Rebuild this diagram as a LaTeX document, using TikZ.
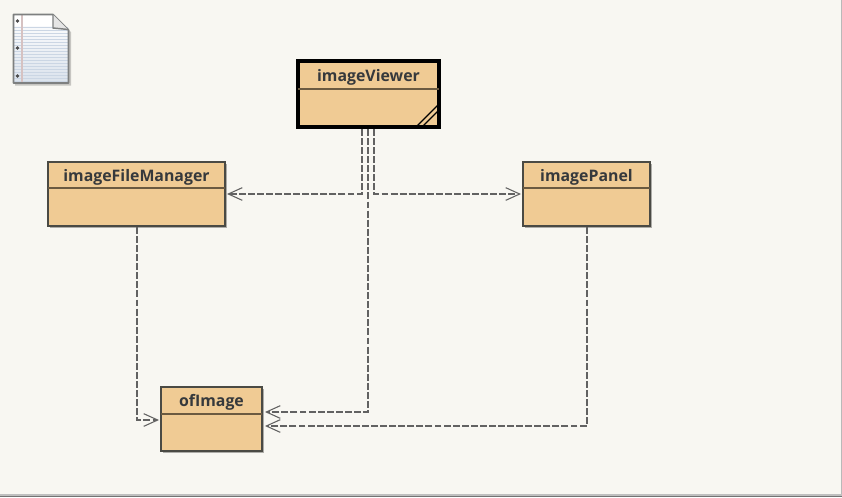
\documentclass[tikz,border=0pt]{standalone}
\usepackage{fontspec}
\setmainfont{Open Sans}
\usetikzlibrary{arrows.meta,shadows,calc}
\definecolor{bgc}{HTML}{F8F7F2}
\definecolor{fillc}{HTML}{F0CB94}
\definecolor{edgec}{HTML}{4A4A44}
\definecolor{divc}{HTML}{6B5A40}
\definecolor{textc}{HTML}{36393C}
\definecolor{linkc}{HTML}{2E2E2E}
\definecolor{paperl}{HTML}{CBD6E4}
\definecolor{paperb}{HTML}{7E8080}
\tikzset{
  classbox/.style={draw=edgec,fill=fillc,line width=1.4pt,outer sep=0pt,inner sep=0pt,
    drop shadow={shadow xshift=1.6pt,shadow yshift=-1.6pt,opacity=.3,fill=black}},
  activebox/.style={classbox,draw=black,line width=3.6pt},
  divider/.style={draw=divc,line width=1.3pt},
  title/.style={font=\bfseries\fontsize{11.9pt}{14pt}\selectfont,text=textc,inner sep=0pt},
  dep/.style={draw=linkc!75,line width=0.95pt,dash pattern=on 5.2pt off 1.6pt,
    -{Straight Barb[length=10.5pt,width=9.5pt,line width=0.8pt]}},
}
\newcommand{\classnode}[8][classbox]{% style, name, x0,y0,x1,y1, divider y, title
  \node[#1,minimum width={(#5-#3)*0.75pt},minimum height={(#6-#4)*0.75pt}] (#2) at ({(#3+#5)/2},{(#4+#6)/2}) {};
  \draw[divider] (#3,#7) -- (#5,#7);
  \node[title] (#2t) at ({(#3+#5)/2},{(#4+#7)/2+2}) {#8};
}
\begin{document}
\begin{tikzpicture}[x=0.75pt,y=-0.75pt]
\useasboundingbox (0,0) rectangle (842,497);
\fill[bgc] (0,0) rectangle (842,497);
\fill[gray!55] (840.5,0) rectangle (842,497);
\fill[gray!50] (0,494) rectangle (842,495.5);
\fill[gray!90!black] (0,495.5) rectangle (842,497);
% document icon
\fill[black,opacity=.2] (15,16) -- (55,16) -- (71,32) -- (71,85.5) -- (15,85.5) -- cycle;
\shade[top color=white,bottom color=paperl!70] (13.5,14.5) -- (53,14.5) -- (68.5,30) -- (68.5,83) -- (13.5,83) -- cycle;
\foreach \yy in {27,30,...,81} \draw[paperl,line width=0.55pt] (14,\yy) -- (68,\yy);
\fill[white] (14.5,15.5) rectangle (52,26);
\draw[red!20!gray!40,line width=1pt] (22,15) -- (22,82.5);
\draw[paperb,line width=1.2pt,line join=round] (13.5,14.5) -- (53,14.5) -- (68.5,30) -- (68.5,83) -- (13.5,83) -- cycle;
\fill[gray!20] (53,14.5) -- (68.5,30) -- (53,28) -- cycle;
\draw[paperb,line width=1.1pt] (53,14.5) -- (53,28) -- (68.5,29.5);
\foreach \yy in {21,48,76} \fill[gray!60!black] (17.5,\yy) circle (1.8);
% classes
\classnode[activebox]{iv}{298}{61}{439}{127}{89}{imageViewer}
\draw[black,line width=0.85pt] (417,126) -- (438,105) (423,126) -- (438,111);
\classnode{ifm}{48}{162}{225}{226}{188}{imageFileManager}
\classnode{ip}{523}{162}{650}{226}{188}{imagePanel}
\classnode{oi}{161}{387}{262}{451}{414}{ofImage}
% connector ends
\coordinate (ivA) at ($(iv.south west)+(64,2)$);
\coordinate (ivB) at ($(iv.south west)+(70,2)$);
\coordinate (ivC) at ($(iv.south west)+(76,2)$);
\coordinate (ifmS) at ($(ifm.south west)+(89,1)$);
\coordinate (ipS) at ($(ip.south west)+(64,1)$);
\coordinate (oiA) at ($(oi.north east)+(3,25)$);
\coordinate (oiB) at ($(oi.north east)+(3,39)$);
\coordinate (oiW) at ($(oi.north west)+(-2,33)$);
\coordinate (ifmE) at ($(ifm.east)+(2,0)$);
\coordinate (ipW) at ($(ip.west)+(-2,0)$);
\draw[dep] (ivA) |- (ifmE);
\draw[dep] (ivB) |- (oiA);
\draw[dep] (ivC) |- (ipW);
\draw[dep] (ifmS) |- (oiW);
\draw[dep] (ipS) |- (oiB);
\end{tikzpicture}
\end{document}
